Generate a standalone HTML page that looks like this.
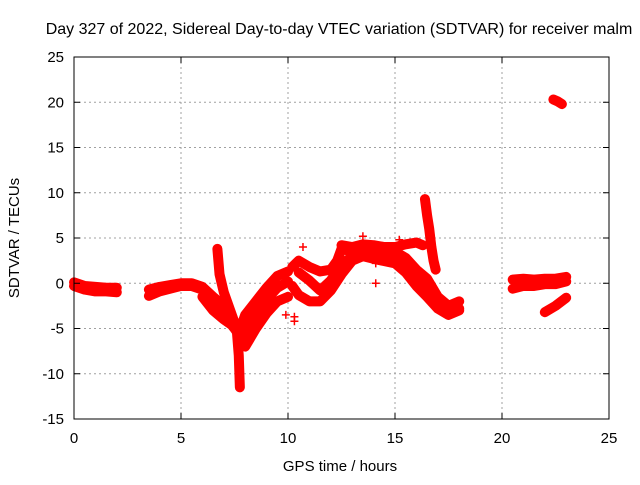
<!DOCTYPE html>
<html><head><meta charset="utf-8"><style>
body{margin:0;background:#fff}
text{font-family:"Liberation Sans",sans-serif;font-size:15px;fill:#000}
</style></head><body>
<svg id="chart" width="640" height="480" xmlns="http://www.w3.org/2000/svg">
<rect width="640" height="480" fill="#fff"/>
<g id="grid"></g><g id="marks"></g><g id="axes"></g>
<text x="339" y="34" text-anchor="middle" style="font-size:16px">Day 327 of 2022, Sidereal Day-to-day VTEC variation (SDTVAR) for receiver malm</text>
<text x="340" y="471" text-anchor="middle">GPS time / hours</text>
<text transform="translate(19,238) rotate(-90)" text-anchor="middle">SDTVAR / TECUs</text>
</svg>
<script>
const xTicks=[0,5,10,15,20,25];
const yTicks=[-15,-10,-5,0,5,10,15,20,25];
const trackA=[[0,0.1],[0.5,-0.3],[1,-0.4],[1.5,-0.5],[2,-0.5]];
const trackA2=[[0,-0.3],[0.5,-0.7],[1,-0.9],[1.5,-0.9],[2,-1]];
const trackB=[[3.5,-1.4],[4,-0.9],[4.5,-0.6],[5,-0.3],[5.5,-0.3],[6,-0.7],[6.5,-2],[7,-3.5],[7.5,-5],[7.8,-6]];
const trackB2=[[3.5,-0.7],[4,-0.4],[4.5,-0.2],[5,0],[5.5,0],[6,-0.4],[6.5,-1.5],[7,-2.5]];
const trackB3=[[6,-1.5],[6.5,-3],[7,-4],[7.3,-4.5]];
const spike1=[[6.7,3.8],[6.8,1],[7,-1],[7.3,-3],[7.6,-5],[7.7,-8],[7.75,-11.5]];
const rise1=[[7.7,-5.5],[8,-3.5],[8.5,-2],[9,-0.5],[9.5,0.8],[10,1.3]];
const rise2=[[7.9,-5.5],[8.5,-3.2],[9,-1.8],[9.5,-0.5],[10,0.2]];
const rise3=[[8,-7],[8.5,-5],[9,-3.3],[9.5,-2],[10,-1.5]];
const upper=[[10.2,1.8],[10.5,2.5],[11,1.8],[11.5,1.3],[12,1.5],[12.3,2.5],[12.5,3.8],[13,3.5],[14,3.6],[15,3.5],[15.5,2.8],[16,1.5],[16.5,0.5],[17,-1.5],[17.5,-2.5],[18,-2]];
const upper2=[[12.5,4.2],[13,4],[13.5,4.3],[14,4.2],[14.5,4],[15,4],[15.5,4.3],[16,4.5],[16.3,4.2]];
const lower=[[10.2,-0.3],[10.5,-1.3],[11,-2],[11.5,-2],[12,-0.8],[12.5,1],[13,2.5],[13.5,3],[14,2.7],[15,2.2],[15.5,1.2],[16,-0.3],[16.5,-1.5],[17,-2.8],[17.5,-3.5],[18,-3]];
const middle=[[10.5,1.2],[11,0.3],[11.5,-0.8],[12,0.3],[12.5,2],[13,3],[14,3],[15,2.8],[16,0.5],[16.5,-0.5],[17,-2],[17.5,-3],[18,-2.8]];
const spike2=[[16.4,9.3],[16.5,7.5],[16.6,6],[16.7,4],[16.8,2.5],[16.9,1.5]];
const late1=[[20.5,0.4],[21,0.5],[21.5,0.4],[22,0.5],[22.5,0.5],[23,0.7]];
const late2=[[20.5,-0.6],[21,-0.3],[21.5,-0.3],[22,-0.1],[22.5,-0.1],[23,0.2]];
const late3=[[22,-3.2],[22.5,-2.5],[23,-1.6]];
const high=[[22.4,20.3],[22.6,20.1],[22.8,19.8]];
const isolated=[[10.3,-4.2],[10.3,-3.7],[9.9,-3.5],[14.1,2.2],[14.1,0],[15.2,4.8],[13.5,5.2],[10.7,4],[12.6,2.8]];
const tracks=[trackA,trackA2,trackB,trackB2,trackB3,spike1,rise1,rise2,rise3,upper,upper2,lower,middle,spike2,late1,late2,late3,high];
const X0=74,X1=609,Y0=419,Y1=57,XMIN=0,XMAX=25,YMIN=-15,YMAX=25;
const sx=v=>X0+(v-XMIN)/(XMAX-XMIN)*(X1-X0);
const sy=v=>Y0-(v-YMIN)/(YMAX-YMIN)*(Y0-Y1);
const NS="http://www.w3.org/2000/svg";
function mk(tag,parent,attrs){const e=document.createElementNS(NS,tag);for(const k in attrs)e.setAttribute(k,attrs[k]);parent.appendChild(e);return e;}
const grid=document.getElementById('grid'),marks=document.getElementById('marks'),axes=document.getElementById('axes');
xTicks.forEach(t=>{
  if(t>XMIN&&t<XMAX){const g=mk('line',grid,{x1:sx(t),x2:sx(t),y1:Y0,y2:Y1,stroke:'#a0a0a0','stroke-dasharray':'2,3'});
  
  }
  mk('line',axes,{x1:sx(t),x2:sx(t),y1:Y0,y2:Y0-6,stroke:'#000'});
  mk('line',axes,{x1:sx(t),x2:sx(t),y1:Y1,y2:Y1+6,stroke:'#000'});
  const l=mk('text',axes,{x:sx(t),y:Y0+24,'text-anchor':'middle'});l.textContent=t;
  
  
});
yTicks.forEach(t=>{
  if(t>YMIN&&t<YMAX){const g=mk('line',grid,{x1:X0,x2:X1,y1:sy(t),y2:sy(t),stroke:'#a0a0a0','stroke-dasharray':'2,3'});
  
  }
  mk('line',axes,{x1:X0,x2:X0+6,y1:sy(t),y2:sy(t),stroke:'#000'});
  mk('line',axes,{x1:X1,x2:X1-6,y1:sy(t),y2:sy(t),stroke:'#000'});
  const l=mk('text',axes,{x:X0-10,y:sy(t)+5,'text-anchor':'end'});l.textContent=t;
  
  
});
const frame=mk('rect',axes,{x:X0,y:Y1,width:X1-X0,height:Y0-Y1,fill:'none',stroke:'#000'});


function plus(p){const x=sx(p[0]),y=sy(p[1]);mk('path',marks,{d:`M${x-4},${y}h8M${x},${y-4}v8`,stroke:'#f00','stroke-width':1.5});}
tracks.forEach(tr=>{
  const pl=mk('polyline',marks,{points:tr.map(p=>sx(p[0])+','+sy(p[1])).join(' '),fill:'none',stroke:'#f00','stroke-width':10,'stroke-linejoin':'round','stroke-linecap':'round'});
  
  
  tr.forEach(plus);
});
isolated.forEach(plus);
</script>
</body></html>
